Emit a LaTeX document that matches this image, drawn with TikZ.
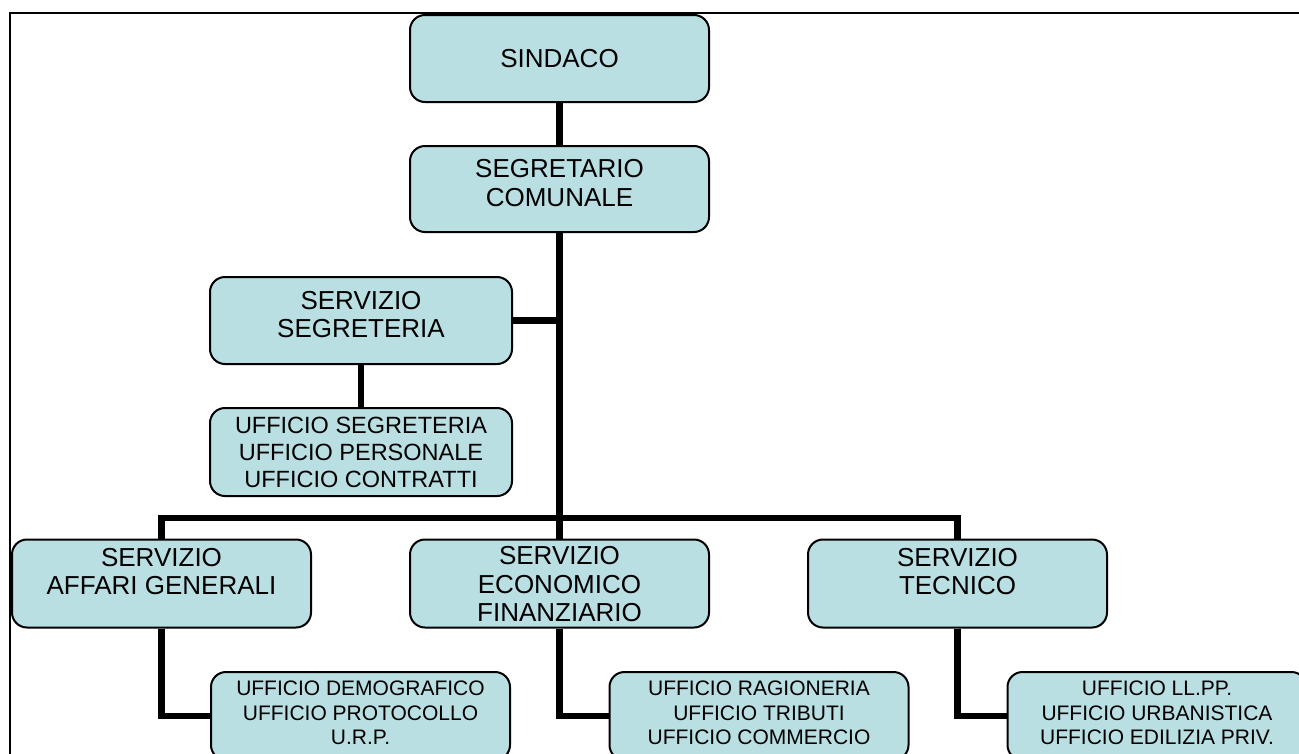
\documentclass[tikz,border=0pt]{standalone}
\usepackage{fontspec}
\setmainfont{Liberation Sans}
\definecolor{boxfill}{RGB}{185,223,227}
\pgfdeclarelayer{background}
\pgfsetlayers{background,main}
\tikzset{
  box/.style={draw=black, line width=2pt, fill=boxfill, rounded corners=15pt,
    rectangle, inner sep=0pt, minimum width=299pt, minimum height=87pt},
  bigtxt/.style={align=center, inner sep=0pt, font=\fontsize{26}{28.5}\selectfont},
  midtxt/.style={align=center, inner sep=0pt, font=\fontsize{23.5}{27}\selectfont},
  smalltxt/.style={align=center, inner sep=0pt, font=\fontsize{21}{24.5}\selectfont},
  conn/.style={draw=black, line width=6.5pt, line join=miter},
  frameline/.style={draw=black, line width=2pt}
}
\begin{document}
\begin{tikzpicture}[x=1pt,y=-1pt]
\useasboundingbox (0,0) rectangle (1299,753);
\clip (0,0) rectangle (1299,753);
% frame
\coordinate (fbl) at (10,770);
\coordinate (ftl) at (10,13);
\coordinate (ftr) at (1320,13);
\draw[frameline] (fbl) -- (ftl) -- (ftr);

% boxes
\node[box] (sindaco) at (559.5,58.5) {};
\node[bigtxt] (sindacoT) at (sindaco.center) {SINDACO};
\node[box, minimum height=86pt] (segr) at (559.5,189) {};
\node[bigtxt] (segrT) at ([yshift=6pt]segr.center) {SEGRETARIO\\COMUNALE};
\node[box, minimum width=302pt] (servsegr) at (361,320.5) {};
\node[bigtxt] (servsegrT) at ([yshift=6pt]servsegr.center) {SERVIZIO\\SEGRETERIA};
\node[box, minimum width=302pt, minimum height=88pt] (uffsegr) at (361,452) {};
\node[midtxt] (uffsegrT) at (uffsegr.center) {UFFICIO SEGRETERIA\\UFFICIO PERSONALE\\UFFICIO CONTRATTI};

\node[box, minimum height=88pt] (affari) at (161.5,583.5) {};
\node[bigtxt] (affariT) at ([yshift=12pt]affari.center) {SERVIZIO\\AFFARI GENERALI};
\node[box, minimum height=88pt] (econ) at (559.5,583.5) {};
\node[bigtxt] (econT) at ([yshift=-1pt]econ.center) {SERVIZIO\\ECONOMICO\\FINANZIARIO};
\node[box, minimum height=88pt] (tecn) at (957.5,583.5) {};
\node[bigtxt] (tecnT) at ([yshift=12pt]tecn.center) {SERVIZIO\\TECNICO};

\node[box, minimum height=88pt] (demo) at (360.5,716) {};
\node[smalltxt] (demoT) at ([yshift=3pt]demo.center) {UFFICIO DEMOGRAFICO\\UFFICIO PROTOCOLLO\\U.R.P.};
\node[box, minimum height=88pt] (ragion) at (759,716) {};
\node[smalltxt] (ragionT) at ([yshift=3pt]ragion.center) {UFFICIO RAGIONERIA\\UFFICIO TRIBUTI\\UFFICIO COMMERCIO};
\node[box, minimum height=88pt] (llpp) at (1157,716) {};
\node[smalltxt] (llppT) at ([yshift=3pt]llpp.center) {UFFICIO LL.PP.\\UFFICIO URBANISTICA\\UFFICIO EDILIZIA PRIV.};

\coordinate (bus) at (559.5,518);

\begin{pgfonlayer}{background}
\draw[conn] (sindaco.south) -- (segr.north);
\draw[conn] (segr.south) -- (econ.north);
\draw[conn] (servsegr.east) -- (servsegr.east -| segr.south);
\draw[conn] (servsegr.south) -- (uffsegr.north);
\draw[conn] (affari.north) -- (affari.north |- bus) -- (tecn.north |- bus) -- (tecn.north);
\draw[conn] (affari.south) -- (affari.south |- demo.west) -- (demo.west);
\draw[conn] (econ.south) -- (econ.south |- ragion.west) -- (ragion.west);
\draw[conn] (tecn.south) -- (tecn.south |- llpp.west) -- (llpp.west);
\end{pgfonlayer}
\end{tikzpicture}
\end{document}
